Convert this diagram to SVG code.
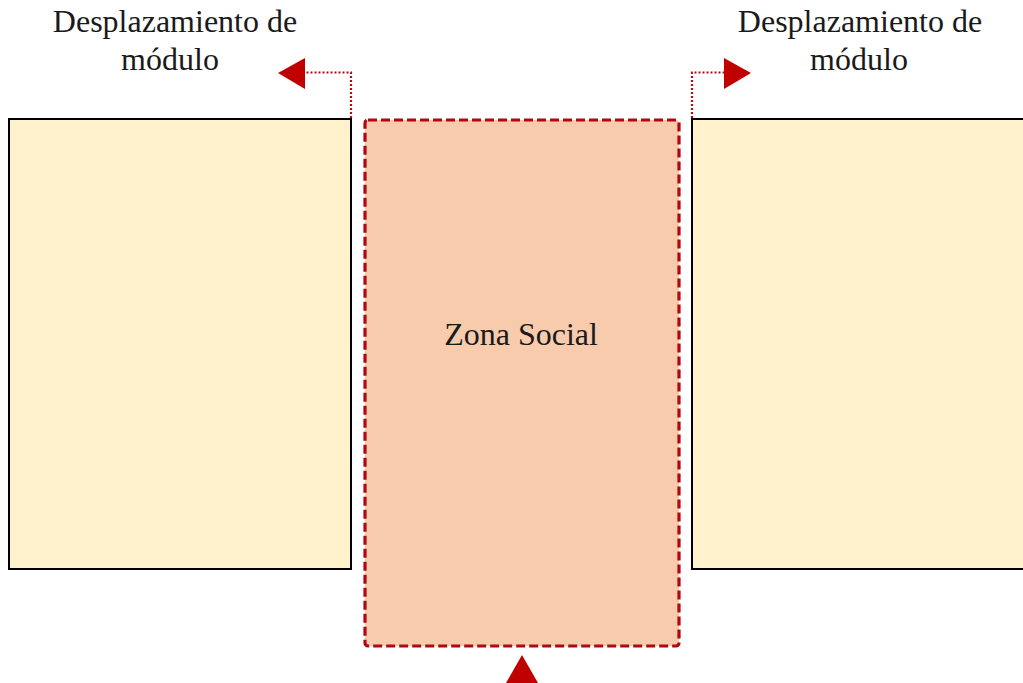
<svg xmlns="http://www.w3.org/2000/svg" width="1023" height="683" viewBox="0 0 1023 683">
<style>
.lbl{font-family:"Liberation Serif","Times New Roman",serif;font-size:32px;fill:#1a1a1a;text-anchor:middle}
.mod{fill:#FFF2CC;stroke:#000;stroke-width:2}
.conn{fill:none;stroke:#A50F15;stroke-width:2.2;stroke-dasharray:2 2}
.head{fill:#C00000}
</style>
<rect width="1023" height="683" fill="#fff"/>
<g id="modulo-izq"><rect class="mod" x="9" y="119" width="342" height="450"/></g>
<g id="modulo-der"><rect class="mod" x="692" y="119" width="340" height="450"/></g>
<g id="zona-social">
<rect x="365" y="120" width="314" height="526" rx="3" fill="#F8CBAD" stroke="#B2070F" stroke-width="3.2" stroke-dasharray="9 4"/>
<text class="lbl" x="521" y="345">Zona Social</text>
</g>
<g id="etiqueta-izq">
<text class="lbl" x="175" y="32">Desplazamiento de</text>
<text class="lbl" x="170" y="70">módulo</text>
</g>
<g id="etiqueta-der">
<text class="lbl" x="860" y="32">Desplazamiento de</text>
<text class="lbl" x="859" y="70">módulo</text>
</g>
<g id="connectors">
<polyline class="conn" points="351,118 351,72.5 305,72.5"/>
<polygon class="head" points="278,73 305,58 305,89"/>
<polyline class="conn" points="692,118 692,72.5 724,72.5"/>
<polygon class="head" points="751,73 724,58 724,89"/>
<polygon class="head" points="522,655 506,683 538,683"/>
</g>
</svg>
